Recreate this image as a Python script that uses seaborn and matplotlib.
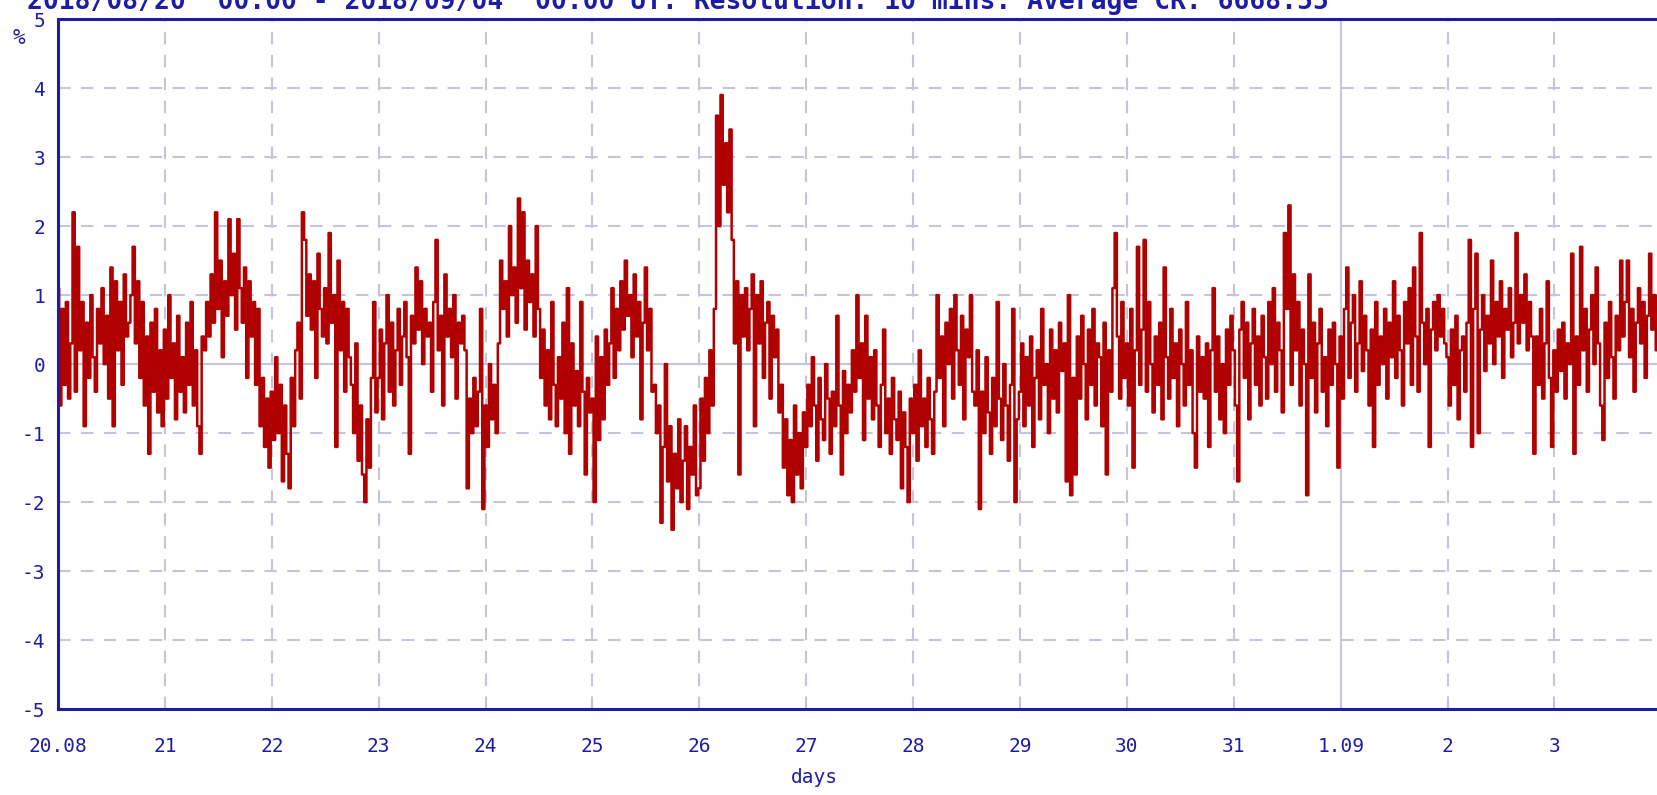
import numpy as np
import pandas as pd
import matplotlib
matplotlib.use("Agg")
import matplotlib.pyplot as plt
import seaborn as sns

# half-hourly values (%), one list per day
aug20 = [1.1, -0.6, 0.8, -0.3, 0.9, -0.5, 0.3, 2.2,
         -0.4, 1.7, 0.2, 0.9, -0.9, 0.6, -0.2, 1.0, 0.1, -0.4, 0.8,
         0.3, 1.1, 0.0, 0.7, -0.5, 1.4, -0.9, 1.2, 0.2, 0.9, -0.3, 1.3, 0.4, 0.6, 1.0, 1.7, 0.3, 1.2, -0.2,
         0.9, -0.6, 0.4, -1.3, 0.6, -0.4, 0.8, -0.7, 0.2, -0.9]
aug21 = [0.5, -0.5, 1.0, -0.2, 0.3, -0.8, 0.7, -0.4, 0.1, -0.7, 0.6, -0.3, 0.9, -0.6, 0.2, -0.9, -1.3, 0.4,
         0.2, 0.9, 0.4, 1.3, 0.6, 2.2, 0.8, 1.5, 0.1, 1.2, 0.7, 2.1, 1.0, 1.6, 0.5, 2.1, 1.1, 0.6, 1.4, -0.2, 1.2, 0.4, 0.9,
         -0.3, 0.8, -0.9, -0.2, -1.2, -0.5, -1.5]
aug22 = [-0.4, -1.1, 0.1, -1.0, -0.3, -1.7,
         -0.6, -1.3, -1.8, -0.2, -0.9, 0.2,
         0.6, -0.5, 2.2, 1.8, 0.7, 1.3, 0.5, 1.2, -0.2, 1.6, 0.8, 0.4, 1.1,
         0.3, 1.9, 0.6, 1.0, -1.2, 1.5, 0.2, 0.9, -0.4, 0.8, 0.1,
         -0.3, -1.0, 0.3, -1.4, -0.6, -1.6, -2.0, -0.8, -1.5, -0.2, 0.9, -0.7]
aug23 = [-0.2, 0.5, -0.8, 0.3, 1.0, -0.4, 0.6, -0.6, 0.2, 0.8, -0.3, 0.4,
         0.9, 0.1, -1.3, 0.7, 0.3, 1.4, 0.5, 1.2, 0.0, 0.8, 0.4,
         0.6, -0.4, 0.9, 1.8, 0.2, 0.7, -0.6, 1.3, 0.4, 0.8, 0.1, 1.0, -0.5, 0.6, 0.3, 0.7,
         0.2, -1.8, -0.5, -1.0, -0.2, -0.9, -0.4, 0.8, -2.1]
aug24 = [-0.6, -1.2, 0.0, -0.8, -0.3, -1.0,
         0.3, 1.5, 0.8, 1.2, 0.4, 2.0, 1.0,
         1.4, 0.6, 2.4, 1.1, 2.2, 0.5, 1.5, 0.9, 1.3, 0.4, 2.0,
         0.8, -0.2, 0.5, -0.6, 0.2, -0.8, 0.9, -0.3, -0.9, 0.1, -0.5, 0.6, -1.0, 1.1, -1.3, 0.3,
         -0.6, -0.1, -0.9, 0.9, -0.4, -1.6, -0.2, -0.7]
aug25 = [-0.5, -2.0, 0.4, -1.1, 0.1, -0.8, 0.5, -0.3,
         0.3, 1.1, -0.2, 0.8, 0.2, 1.2, 0.5, 1.5, 0.7, 1.0, 0.1, 1.3, 0.4, 0.9, -0.8, 0.6, 1.4, 0.2, 0.8, -0.4,
         -0.3, -1.0, -0.6, -2.3, -1.2, 0.0, -1.7, -0.9, -2.4, -1.3, -1.8, -0.8, -2.0, -1.4, -0.9, -2.1,
         -1.2, -1.6, -0.6, -1.9]
aug26 = [-1.8, -0.5, -1.4, -0.2, -1.0, 0.2, -0.6,
         0.8, 3.6, 2.0, 3.9, 2.6, 3.2, 2.2, 3.4,
         1.8, 0.3, 1.2, -1.6, 1.0, 0.4,
         1.1, 0.2, 0.8, 1.3, -0.9, 1.0, 0.3, 1.2, -0.2, 0.6, 0.9, -0.5, 0.7, 0.1, 0.5,
         -0.7, -0.3, -1.5, -0.8, -1.9, -1.1, -2.0, -0.6, -1.6, -1.0, -1.8, -0.7]
aug27 = [-1.2, -0.3, -0.9, 0.1, -0.6, -1.4, -0.2, -0.8, -1.1, 0.0, -0.5, -1.3, -0.4, -0.9, 0.7, -0.6,
         -1.6, -0.1, -1.0, -0.3, -0.7, 0.2,
         -0.4, 1.0, -0.2, 0.3, -1.1, 0.7, -0.5, 0.1, -0.8, 0.2,
         -0.6, -1.2, -0.3, 0.5, -1.0, -0.5, -1.3, -0.2, -0.8, -1.1, -0.4, -1.8, -0.7, -1.2, -2.0, -0.5]
aug28 = [-1.0, -0.3, -1.4, 0.2, -0.9, -0.5, -1.2, -0.2, -0.8, -1.3,
         -0.4, 1.0, -0.2, 0.4, -0.9, 0.6, 0.0, 0.8, -0.5, 1.0, 0.2, -0.3, 0.7, -0.8, 0.5, 0.1, 1.0, -0.4,
         -0.6, 0.2, -2.1, -0.4, -1.0, 0.1, -0.7, -1.3, -0.2, -0.9, 0.9, -0.5, -1.1, 0.0, -0.6, -1.4,
         -0.3, 0.8, -2.0, -0.8]
aug29 = [-0.4, 0.3, -0.9, 0.1, -0.6, 0.4, -1.2, -0.2, 0.2, -0.8, 0.8, -0.3, 0.0, -1.0, 0.5, -0.5,
         0.2, -0.7, 0.6, -0.1, 0.3, -1.7, 1.0, -1.9,
         -0.2, -1.6, 0.4, -0.5, 0.7, 0.0, -0.8, 0.5, -0.3, 0.8, -0.6, 0.3, 0.1, -0.9, 0.6, -1.6,
         0.2, -0.4, 1.1, 1.9, 0.4, -0.5, 0.9, -0.2]
aug30 = [0.3, -0.6, 0.8, -1.5, 0.2, 1.7, -0.3, 0.5, 1.8, -0.4, 0.9, 0.0, -0.7, 0.4,
         -0.3, 0.6, -0.8, 1.4, 0.1, -0.5, 0.8, -0.2, 0.3, -0.9, 0.5, 0.0, -0.6, 0.9, -0.3, 0.2,
         -1.0, -1.5, 0.4, -0.4, 0.1,
         -0.5, 0.3, -1.2, 0.2, 1.1, -0.4, 0.4, -0.8, 0.0, -1.0, 0.5, -0.3, 0.7]
aug31 = [0.2, -0.6, -1.7, 0.5, 0.9, -0.2, 0.6, -0.8, 0.3, 0.8, -0.3, 0.4, -0.6, 0.7, 0.1, -0.5,
         0.9, 0.0, 1.1, -0.4, 0.6, 0.2, -0.7, 1.9,
         0.8, 2.3,
         -0.3, 1.3, 0.2, 0.9, -0.6, 0.5, 0.0, -1.9, 1.3, -0.2, 0.6, -0.7, 0.3, 0.8, -0.4, 0.1,
         -0.9, 0.5, -0.3, 0.6, 0.0, -1.5]
sep01 = [0.4, -0.5, 0.8, 1.4, -0.2, 0.6, 1.0, -0.4, 0.3, 1.2, -0.1, 0.7, 0.2, -0.6, 0.5, -1.2,
         0.9, -0.3, 0.4, 0.0, 0.8, -0.5, 0.6, 0.1,
         1.2, -0.2, 0.7, 0.2, -0.6, 0.9, 0.3, 1.1, -0.3, 1.4, 0.4, -0.4, 1.9, 0.6, 0.0, 0.8, -1.2, 0.5,
         0.9, 0.2, 1.0, 0.4, 0.8, 0.3]
sep02 = [0.1, -0.6, 0.5, -0.3, 0.7, -0.8, 0.2, 0.4, -0.4, 0.6,
         1.8, -1.2, 0.8, 1.6, -1.0, 0.5, 1.0, -0.1, 0.7, 0.3, 1.5, 0.0, 0.9, 0.4, 1.2, -0.2,
         0.8, 0.5, 1.1, 0.1, 0.6,
         1.9, 0.3, 1.0, 0.6, 1.3, 0.2, 0.9, 0.4,
         -1.3, 0.4, -0.3, 0.8, -0.5, 0.3, 1.2, -0.2, -1.2]
sep03 = [0.2, -0.4, 0.5, -0.1, 0.6, -0.5, 0.3, 0.0, 1.6, -1.3,
         0.4, -0.3, 1.7, 0.2, 0.8, -0.4, 0.5, 1.0, 0.0, 1.4, 0.3, -0.6, -1.1, 0.6, -0.2, 0.9, 0.1,
         -0.5, 0.7,
         0.2, 1.5, 0.4, 0.9, 1.5, 0.1, 0.8, -0.4, 0.6, 1.1, 0.3, 0.9, -0.2, 0.7, 1.6, 0.5, 1.0, 0.2, 0.6]

day_labels = ["20.08", "21", "22", "23", "24", "25", "26", "27", "28", "29",
              "30", "31", "1.09", "2", "3"]
y_ticks = [-5, -4, -3, -2, -1, 0, 1, 2, 3, 4, 5]
title = ("2018/08/20  00:00 - 2018/09/04  00:00 UT. "
         "Resolution: 10 mins. Average CR: 6668.55")

days = [aug20, aug21, aug22, aug23, aug24, aug25, aug26, aug27, aug28, aug29,
        aug30, aug31, sep01, sep02, sep03]
vals = np.concatenate(days)
df = pd.DataFrame({"t": np.arange(len(vals)) / 48.0, "v": vals})

BLUE = "#1c1ca6"
GRID = "#c4c4dc"
RED = "#b00000"

sns.set_style("white")
plt.rcParams["font.family"] = ["DejaVu Sans Mono"]

fig = plt.figure(figsize=(16.58, 7.95), dpi=100)
ax = fig.add_axes([0.035, 0.108, 0.967, 0.868])

# grid
for i in range(len(day_labels)):
    if day_labels[i] == "1.09":
        ax.axvline(i, color=GRID, lw=1.5, zorder=0)
    elif i > 0:
        ax.axvline(i, color=GRID, lw=1.5, ls=(0, (6, 5)), zorder=0)
for y in y_ticks:
    if y == 0:
        ax.axhline(0, color=GRID, lw=1.5, zorder=0)
    elif -5 < y < 5:
        ax.axhline(y, color=GRID, lw=1.5, ls=(0, (6, 5)), zorder=0)

sns.lineplot(data=df, x="t", y="v", ax=ax, color=RED, lw=1.8,
             drawstyle="steps-mid", estimator=None)

ax.set_xlim(0, 15)
ax.set_ylim(-5, 5)
ax.set_xticks(range(len(day_labels)))
ax.set_xticklabels(day_labels)
ax.set_yticks(y_ticks)
ax.set_yticklabels([str(y) for y in y_ticks])
ax.tick_params(length=0, colors=BLUE, labelsize=14)
ax.tick_params(axis="x", pad=20)
ax.tick_params(axis="y", pad=9)
ax.set_ylabel("")
ax.set_xlabel("days", color=BLUE, fontsize=14)
ax.xaxis.set_label_coords(0.472, -0.085)

for s in ["left", "bottom", "top"]:
    ax.spines[s].set_color(BLUE)
    ax.spines[s].set_linewidth(2.2)
ax.spines["right"].set_visible(False)

fig.text(0.0075, 0.945, "%", color=BLUE, fontsize=15)
fig.text(0.016, 0.999, title, color=BLUE, fontsize=19, fontweight="bold",
         va="center", ha="left")

fig.savefig("out.png", dpi=100)
